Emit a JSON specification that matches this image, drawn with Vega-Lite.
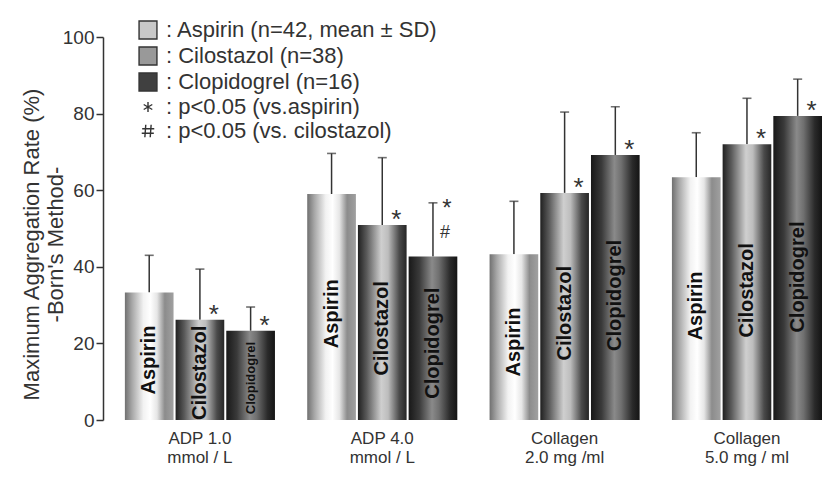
{
  "$schema": "https://vega.github.io/schema/vega-lite/v6.json",
  "width": 719,
  "height": 383,
  "autosize": "none",
  "padding": {"left": 103, "top": 37, "right": 0, "bottom": 57},
  "background": "white",
  "config": {"view": {"stroke": null}, "font": "Liberation Sans"},
  "data": {"values": [
    {"group": "ADP 1.0 mmol / L", "drug": "Aspirin", "mean": 33.3, "sd": 9.7, "sig": ""},
    {"group": "ADP 1.0 mmol / L", "drug": "Cilostazol", "mean": 26.2, "sd": 13.2, "sig": "*"},
    {"group": "ADP 1.0 mmol / L", "drug": "Clopidogrel", "mean": 23.3, "sd": 6.2, "sig": "*"},
    {"group": "ADP 4.0 mmol / L", "drug": "Aspirin", "mean": 59.0, "sd": 10.6, "sig": ""},
    {"group": "ADP 4.0 mmol / L", "drug": "Cilostazol", "mean": 50.9, "sd": 17.6, "sig": "*"},
    {"group": "ADP 4.0 mmol / L", "drug": "Clopidogrel", "mean": 42.7, "sd": 14.0, "sig": "*#"},
    {"group": "Collagen 2.0 mg /ml", "drug": "Aspirin", "mean": 43.3, "sd": 13.8, "sig": ""},
    {"group": "Collagen 2.0 mg /ml", "drug": "Cilostazol", "mean": 59.3, "sd": 21.1, "sig": "*"},
    {"group": "Collagen 2.0 mg /ml", "drug": "Clopidogrel", "mean": 69.2, "sd": 12.6, "sig": "*"},
    {"group": "Collagen 5.0 mg / ml", "drug": "Aspirin", "mean": 63.4, "sd": 11.6, "sig": ""},
    {"group": "Collagen 5.0 mg / ml", "drug": "Cilostazol", "mean": 72.0, "sd": 12.0, "sig": "*"},
    {"group": "Collagen 5.0 mg / ml", "drug": "Clopidogrel", "mean": 79.4, "sd": 9.6, "sig": "*"}
  ]},
  "encoding": {
    "x": {
      "field": "group", "type": "nominal",
      "sort": ["ADP 1.0 mmol / L", "ADP 4.0 mmol / L", "Collagen 2.0 mg /ml", "Collagen 5.0 mg / ml"],
      "scale": {"paddingInner": 0.177, "paddingOuter": 0.06, "align": 1},
      "axis": {
        "title": null, "domain": false, "ticks": false, "labelAngle": 0,
        "labelFontSize": 17, "labelColor": "#333", "labelPadding": 10, "labelLineHeight": 19,
        "labelFont": "Liberation Sans",
        "labelExpr": "slice(datum.label, 0, 3) === 'ADP' ? [slice(datum.label, 0, 7), slice(datum.label, 8)] : [slice(datum.label, 0, 8), slice(datum.label, 9)]"
      }
    },
    "xOffset": {"field": "drug", "type": "nominal", "sort": ["Aspirin", "Cilostazol", "Clopidogrel"], "scale": {"paddingInner": 0.04, "paddingOuter": 0}}
  },
  "layer": [
    {
      "transform": [{"filter": "false"}],
      "mark": {"type": "point", "filled": true, "opacity": 1, "stroke": "#333", "strokeWidth": 1.4},
      "encoding": {
        "y": {
          "field": "mean", "type": "quantitative",
          "scale": {"domain": [0, 100], "nice": false},
          "axis": {
            "title": ["Maximum Aggregation Rate (%)", "-Born's Method-"],
            "values": [0, 20, 40, 60, 80, 100], "grid": false,
            "domainColor": "#333", "domainWidth": 1.5, "tickColor": "#333", "tickWidth": 1.5, "tickSize": 7,
            "labelFontSize": 19, "labelColor": "#333", "labelPadding": 2, "labelFont": "Liberation Sans",
            "titleFontSize": 22, "titleFontWeight": "normal", "titleColor": "#333", "titleFont": "Liberation Sans",
            "titleLineHeight": 24, "titleY": 207, "titleX": -60
          }
        },
        "color": {
          "field": "drug", "type": "nominal",
          "scale": {"domain": ["Aspirin", "Cilostazol", "Clopidogrel", "*", "#"], "range": ["#c8c8c8", "#999999", "#404040", "#333333", "#333333"]},
          "legend": {
            "orient": "none", "legendX": 34, "legendY": -18, "title": null, "padding": 0,
            "symbolSize": 320, "symbolStrokeWidth": 1.4, "symbolStrokeColor": "#333", "symbolOpacity": 1,
            "labelFontSize": 22, "labelColor": "#333", "labelFont": "Liberation Sans", "labelOffset": 7, "rowPadding": 2,
            "labelLimit": 400,
            "labelExpr": "{'Aspirin': ': Aspirin (n=42, mean ± SD)', 'Cilostazol': ': Cilostazol (n=38)', 'Clopidogrel': ': Clopidogrel (n=16)', '*': ': p<0.05 (vs.aspirin)', '#': ': p<0.05 (vs. cilostazol)'}[datum.label]"
          }
        },
        "shape": {
          "field": "drug", "type": "nominal",
          "scale": {"domain": ["Aspirin", "Cilostazol", "Clopidogrel", "*", "#"], "range": ["square", "square", "square", "M0,-0.55L0,0.55M-0.48,-0.28L0.48,0.28M-0.48,0.28L0.48,-0.28", "M-0.25,-0.7L-0.35,0.7M0.35,-0.7L0.25,0.7M-0.65,-0.25L0.7,-0.25M-0.7,0.25L0.65,0.25"]}
        }
      }
    },
    {
      "transform": [{"calculate": "datum.mean + datum.sd", "as": "upper"}],
      "mark": {"type": "rule", "color": "#333", "strokeWidth": 1.5},
      "encoding": {
        "y": {"field": "mean", "type": "quantitative", "scale": {"domain": [0, 100], "nice": false}},
        "y2": {"field": "upper"}
      }
    },
    {
      "transform": [{"calculate": "datum.mean + datum.sd", "as": "upper"}],
      "mark": {"type": "tick", "color": "#333", "thickness": 1.6, "size": 9},
      "encoding": {
        "y": {"field": "upper", "type": "quantitative", "scale": {"domain": [0, 100], "nice": false}}
      }
    },
    {
      "mark": {"type": "bar"},
      "encoding": {
        "y": {"field": "mean", "type": "quantitative", "scale": {"domain": [0, 100], "nice": false}},
        "fill": {
          "condition": [
            {"test": "datum.drug === 'Aspirin'", "value": {"gradient": "linear", "x1": 0, "y1": 0, "x2": 1, "y2": 0, "stops": [
              {"offset": 0, "color": "#707070"}, {"offset": 0.15, "color": "#a8a8a8"}, {"offset": 0.38, "color": "#f2f2f2"},
              {"offset": 0.52, "color": "#ffffff"}, {"offset": 0.66, "color": "#e6e6e6"}, {"offset": 0.82, "color": "#8c8c8c"},
              {"offset": 1, "color": "#a0a0a0"}]}},
            {"test": "datum.drug === 'Cilostazol'", "value": {"gradient": "linear", "x1": 0, "y1": 0, "x2": 1, "y2": 0, "stops": [
              {"offset": 0, "color": "#202020"}, {"offset": 0.18, "color": "#5a5a5a"}, {"offset": 0.48, "color": "#cfcfcf"},
              {"offset": 0.62, "color": "#bdbdbd"}, {"offset": 0.85, "color": "#4a4a4a"}, {"offset": 1, "color": "#262626"}]}}
          ],
          "value": {"gradient": "linear", "x1": 0, "y1": 0, "x2": 1, "y2": 0, "stops": [
            {"offset": 0, "color": "#181818"}, {"offset": 0.22, "color": "#3a3a3a"}, {"offset": 0.48, "color": "#8a8a8a"},
            {"offset": 0.62, "color": "#707070"}, {"offset": 0.85, "color": "#2a2a2a"}, {"offset": 1, "color": "#141414"}]}
        }
      }
    },
    {
      "transform": [{"calculate": "datum.mean * 0.47", "as": "mid"}],
      "mark": {"type": "text", "angle": 270, "align": "center", "baseline": "middle", "fontWeight": "bold", "font": "Liberation Sans", "color": "#111"},
      "encoding": {
        "y": {"field": "mid", "type": "quantitative", "scale": {"domain": [0, 100], "nice": false}},
        "text": {"field": "drug"},
        "size": {"condition": {"test": "datum.mean < 30 && datum.drug === 'Clopidogrel'", "value": 13}, "value": 20}
      }
    },
    {
      "transform": [{"filter": "datum.sig === '*'"}],
      "mark": {"type": "text", "text": "*", "fontSize": 26, "baseline": "alphabetic", "align": "center", "dx": 14, "dy": 3, "color": "#333"},
      "encoding": {
        "y": {"field": "mean", "type": "quantitative", "scale": {"domain": [0, 100], "nice": false}}
      }
    },
    {
      "transform": [{"filter": "datum.sig === '*#'"}],
      "mark": {"type": "text", "text": "#", "fontSize": 18, "baseline": "alphabetic", "align": "center", "dx": 12, "dy": -18, "color": "#333"},
      "encoding": {
        "y": {"field": "mean", "type": "quantitative", "scale": {"domain": [0, 100], "nice": false}}
      }
    },
    {
      "transform": [{"filter": "datum.sig === '*#'"}],
      "mark": {"type": "text", "text": "*", "fontSize": 24, "baseline": "alphabetic", "align": "center", "dx": 14, "dy": -40, "color": "#333"},
      "encoding": {
        "y": {"field": "mean", "type": "quantitative", "scale": {"domain": [0, 100], "nice": false}}
      }
    }
  ]
}
